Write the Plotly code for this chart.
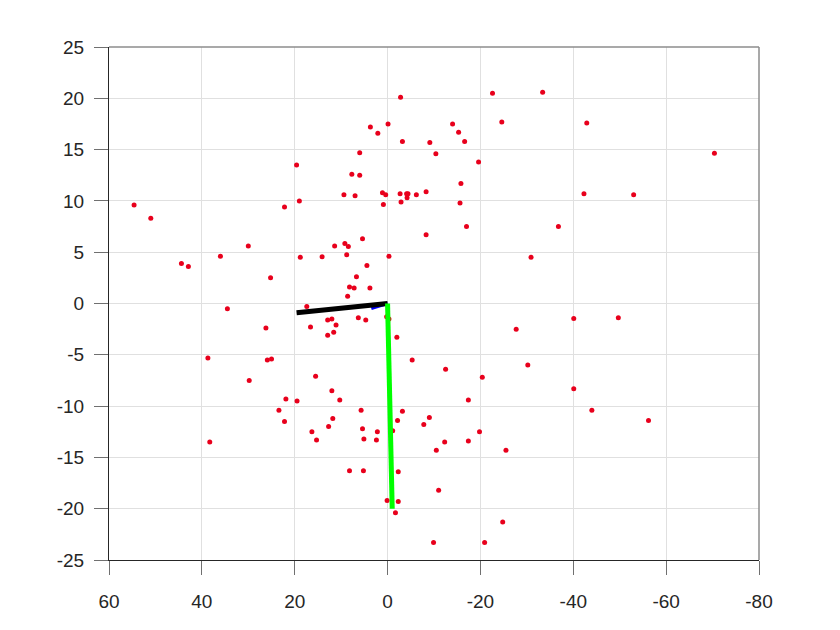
import plotly.graph_objects as go

# Scatter points (red dots)
pts_x = [54.6, 51.0, 19.6, 19.0, 22.2, -2.8, -22.6, -33.4, 3.7, 2.1, -0.1, -14.0, -15.3, -16.6,
         -24.6, -3.2, -9.1, -10.4, 6.0, -19.6, 7.7, 6.0, -15.8, 9.4, 7.0, 1.1, 0.4, -2.7, -4.1,
         -4.4, -4.2, -6.2, -8.3, 0.9, -2.9, -15.6, -42.9, -70.4, -42.3, -53.0, 30.0, 36.0, 44.4,
         42.9, 25.2, 18.8, 14.1, 11.4, 34.5, 17.4, 26.2, 16.6, 12.9, 12.0, 11.1, 12.9, 11.6, 38.7,
         25.9, 25.0, 15.5, 29.8, 9.2, 8.45, 5.4, -8.3, -17.0, -36.8, 8.8, -0.3, -30.9, 4.45,
         6.7, 8.2, 7.2, 3.8, 8.6, 6.3, 4.7, 0.2, -0.3, -2.0, -27.7, -5.3, -12.5, -20.4, -30.2,
         -40.1, -49.7, -40.1, 38.3, 21.9, 19.5, 23.4, 22.2, 12.0, 10.3, 11.8, 12.7, 16.3, 15.3,
         5.7, 5.4, 2.2, 5.1, 2.4, -3.2, -2.15, -1.1, -7.8, -9.0, -17.4, -19.8, -17.4, -12.3,
         -10.5, -25.5, 8.2, 5.2, -2.3, -11.0, 0.1, -2.3, -1.7, -24.8, -9.9, -20.9, -44.0, -56.2]
pts_y = [9.6, 8.3, 13.5, 10.0, 9.4, 20.1, 20.5, 20.6, 17.2, 16.6, 17.5, 17.5, 16.7, 15.8,
         17.7, 15.8, 15.7, 14.6, 14.7, 13.8, 12.6, 12.5, 11.7, 10.6, 10.5, 10.8, 10.6, 10.7, 10.7,
         10.7, 10.3, 10.6, 10.9, 9.65, 9.9, 9.8, 17.6, 14.65, 10.7, 10.6, 5.6, 4.6, 3.9,
         3.6, 2.5, 4.5, 4.55, 5.6, -0.5, -0.3, -2.4, -2.3, -1.6, -1.5, -2.1, -3.1, -2.8, -5.3,
         -5.5, -5.4, -7.1, -7.5, 5.85, 5.55, 6.3, 6.7, 7.5, 7.5, 4.75, 4.6, 4.5, 3.7,
         2.6, 1.6, 1.5, 1.5, 0.7, -1.4, -1.6, -1.3, -1.5, -3.3, -2.5, -5.5, -6.4, -7.2, -6.0,
         -1.46, -1.4, -8.3, -13.5, -9.3, -9.5, -10.4, -11.5, -8.5, -9.4, -11.2, -12.0, -12.5, -13.3,
         -10.4, -12.2, -12.5, -13.2, -13.3, -10.5, -11.4, -12.4, -11.8, -11.1, -9.4, -12.5, -13.4, -13.5,
         -14.3, -14.3, -16.3, -16.3, -16.4, -18.2, -19.2, -19.3, -20.4, -21.3, -23.3, -23.3, -10.4, -11.4]

# Axis segments from origin
seg_black_x = [0, 19.6]
seg_black_y = [0, -0.9]
seg_green_x = [0, -1.0]
seg_green_y = [0, -20.0]
seg_blue_x = [0, 3.5]
seg_blue_y = [0, -0.5]

x_ticks = [60, 40, 20, 0, -20, -40, -60, -80]
y_ticks = [25, 20, 15, 10, 5, 0, -5, -10, -15, -20, -25]

fig = go.Figure()
fig.add_trace(go.Scatter(x=pts_x, y=pts_y, mode="markers",
                         marker=dict(color="#e8001c", size=5, line=dict(width=0)),
                         showlegend=False))
fig.add_trace(go.Scatter(x=seg_blue_x, y=seg_blue_y, mode="lines",
                         line=dict(color="#0000ff", width=3), showlegend=False))
fig.add_trace(go.Scatter(x=seg_black_x, y=seg_black_y, mode="lines",
                         line=dict(color="#000000", width=5), showlegend=False))
fig.add_trace(go.Scatter(x=seg_green_x, y=seg_green_y, mode="lines",
                         line=dict(color="#00ff00", width=5), showlegend=False))

font = dict(family="Liberation Sans, Arial, sans-serif", size=19, color="#262626")

fig.update_layout(
    width=840, height=630,
    margin=dict(l=101, r=89, t=39, b=78),
    paper_bgcolor="white", plot_bgcolor="white",
    font=font,
    xaxis=dict(range=[60, -80], tickvals=x_ticks, ticktext=[str(v) for v in x_ticks],
               showgrid=True, gridcolor="#e0e0e0", gridwidth=1, zeroline=False,
               showline=True, linecolor="#262626", linewidth=1,
               ticks="outside", ticklen=14, tickwidth=1, tickcolor="#707070",
               ticklabelstandoff=10, tickfont=font),
    yaxis=dict(range=[-25, 25], tickvals=y_ticks, ticktext=[str(v) for v in y_ticks],
               showgrid=True, gridcolor="#e0e0e0", gridwidth=1, zeroline=False,
               showline=True, linecolor="#262626", linewidth=1,
               ticks="outside", ticklen=14, tickwidth=1, tickcolor="#707070",
               ticklabelstandoff=6, tickfont=font),
    shapes=[
        dict(type="line", xref="paper", yref="paper", x0=0, x1=1, y0=1, y1=1,
             line=dict(color="#8c8c8c", width=1.5)),
        dict(type="line", xref="paper", yref="paper", x0=1, x1=1, y0=0, y1=1,
             line=dict(color="#8c8c8c", width=1.5)),
    ],
)

fig.write_html("out.html")
